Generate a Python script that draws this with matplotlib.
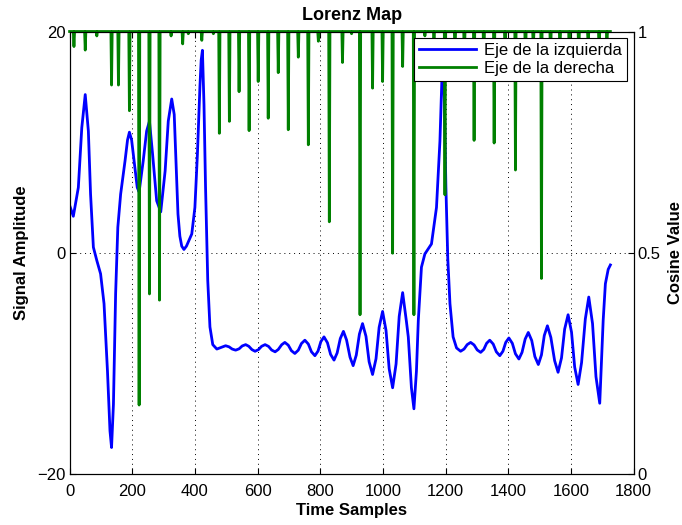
import numpy as np
import matplotlib
matplotlib.use('Agg')
import matplotlib.pyplot as plt

plt.rcParams['font.family'] = ['Liberation Sans', 'DejaVu Sans']

# Señal principal (eje izquierdo): muestras y amplitud
t_signal = [0, 12, 28, 39, 50, 60, 67, 76, 87, 99, 110, 121, 129, 134, 140, 147,
            154, 163, 177, 185, 191, 198, 206, 216, 222, 235, 246, 255, 265, 278,
            291, 305, 315, 326, 334, 340, 346, 352, 358, 365, 373, 390, 400, 408,
            416, 420, 424, 429, 434, 441, 448, 457, 470, 484, 498, 509, 519, 530,
            541, 551, 562, 572, 582, 592, 603, 613, 624, 635, 645, 656, 666, 677,
            687, 698, 708, 719, 730, 740, 751, 762, 772, 783, 793, 802, 812, 823,
            833, 844, 854, 864, 874, 884, 895, 905, 915, 925, 935, 946, 956, 967,
            978, 988, 999, 1010, 1020, 1031, 1042, 1052, 1063, 1075, 1081, 1091,
            1099, 1107, 1113, 1123, 1134, 1155, 1171, 1182, 1188, 1192, 1196, 1201,
            1207, 1214, 1224, 1235, 1248, 1259, 1269, 1280, 1291, 1301, 1312, 1322,
            1331, 1341, 1352, 1362, 1373, 1383, 1392, 1402, 1413, 1423, 1434, 1444,
            1454, 1464, 1475, 1485, 1496, 1506, 1515, 1525, 1536, 1548, 1559, 1570,
            1580, 1591, 1602, 1612, 1623, 1634, 1646, 1657, 1669, 1680, 1692, 1703,
            1710, 1719, 1726]
signal = [4.3, 3.3, 5.9, 11.3, 14.3, 11.0, 5.3, 0.5, -0.7, -1.9, -4.6, -10.7,
          -16.1, -17.6, -13.7, -3.7, 2.3, 5.3, 8.3, 10.2, 10.9, 10.2, 8.3, 5.9,
          5.5, 8.3, 11.0, 11.9, 8.9, 4.7, 3.7, 7.4, 11.9, 13.9, 12.5, 8.0, 3.5,
          1.5, 0.6, 0.3, 0.6, 1.7, 4.1, 8.9, 15.0, 17.4, 18.3, 13.4, 5.9, -2.5,
          -6.7, -8.3, -8.7, -8.55, -8.4, -8.5, -8.7, -8.8, -8.68, -8.42, -8.3,
          -8.45, -8.75, -8.9, -8.75, -8.45, -8.3, -8.46, -8.79, -8.95, -8.74,
          -8.31, -8.1, -8.35, -8.85, -9.1, -8.8, -8.2, -7.9, -8.25, -8.95, -9.3,
          -8.88, -8.03, -7.6, -8.13, -9.18, -9.7, -9.05, -7.75, -7.1, -7.88,
          -9.43, -10.2, -9.25, -7.35, -6.4, -7.55, -9.85, -11.0, -9.58, -6.73,
          -5.3, -7.03, -10.48, -12.2, -10.05, -5.75, -3.6, -6.2, -7.6, -12.2,
          -14.1, -10.7, -6.1, -1.3, -0.1, 0.8, 4.1, 10.1, 15.5, 18.0, 14.0, 6.0,
          -0.5, -4.6, -7.6, -8.6, -8.9, -8.7, -8.3, -8.1, -8.33, -8.78, -9.0,
          -8.73, -8.18, -7.9, -8.25, -8.95, -9.3, -8.9, -8.1, -7.7, -8.18, -9.13,
          -9.6, -9.0, -7.8, -7.2, -7.93, -9.38, -10.1, -9.23, -7.48, -6.6, -7.65,
          -9.75, -10.8, -9.5, -6.9, -5.6, -7.18, -10.33, -11.9, -9.93, -5.98,
          -4.0, -6.4, -11.2, -13.6, -6.1, -2.8, -1.5, -1.1]

# Coseno (eje derecho): posición y valor mínimo de cada caída
dip_t = [14, 50, 87, 134, 156, 191, 222, 255, 287, 324, 361, 379, 422, 459,
         478, 510, 541, 573, 602, 634, 666, 698, 730, 762, 794, 829, 871, 900,
         927, 967, 999, 1031, 1063, 1099, 1134, 1163, 1198, 1230, 1260, 1291,
         1322, 1355, 1390, 1423, 1455, 1480, 1506, 1535, 1565, 1595, 1625, 1655,
         1690, 1715]
dip_min = [0.966, 0.958, 0.99, 0.879, 0.879, 0.821, 0.156, 0.407, 0.393, 0.99,
           0.972, 0.995, 0.98, 0.995, 0.77, 0.797, 0.864, 0.776, 0.887, 0.804,
           0.907, 0.778, 0.942, 0.744, 0.978, 0.570, 0.930, 0.995, 0.360, 0.872,
           0.887, 0.499, 0.921, 0.360, 0.99, 0.985, 0.631, 0.95, 0.92, 0.754,
           0.90, 0.748, 0.93, 0.687, 0.90, 0.96, 0.442, 0.93, 0.96, 0.90, 0.94,
           0.97, 0.95, 0.98]

t_cos = [0]
cos_val = [1.0]
for d, m in zip(dip_t, dip_min):
    t_cos += [d - 2, d, d + 2]
    cos_val += [1.0, m, 1.0]
t_cos.append(1726)
cos_val.append(1.0)

fig = plt.figure(figsize=(6.82, 5.25), dpi=100)
ax1 = fig.add_axes([0.102, 0.097, 0.827, 0.843])
ax2 = ax1.twinx()

l1, = ax1.plot(t_signal, signal, color=(0, 0, 1), lw=2.0)
l2, = ax2.plot(t_cos, cos_val, color=(0, 0.5, 0), lw=2.0, clip_on=False)

ax1.set_xlim(0, 1800)
ax1.set_ylim(-20, 20)
ax2.set_ylim(0, 1)
ax1.set_xticks(np.arange(0, 1801, 200))
ax1.set_yticks([-20, 0, 20])
ax2.set_yticks([0, 0.5, 1])
ax2.set_yticklabels(['0', '0.5', '1'])

# rejilla punteada como en MATLAB
ax1.grid(True, color='k', linestyle=(0, (1, 4)), linewidth=0.7)
ax1.tick_params(direction='in', length=4, labelsize=12, top=True)
ax1.tick_params(axis='x', pad=7)
ax1.tick_params(axis='y', pad=3)
ax2.tick_params(direction='in', length=4, labelsize=12, pad=3)

ax1.set_xlabel('Time Samples', fontsize=12, fontweight='bold', labelpad=3)
ax1.set_ylabel('Signal Amplitude', fontsize=12, fontweight='bold', labelpad=6)
ax2.set_ylabel('Cosine Value', fontsize=12, fontweight='bold', labelpad=5)
ax1.set_title('Lorenz Map', fontsize=13, fontweight='bold', pad=8)

leg = ax2.legend([l1, l2], ['Eje de la izquierda', 'Eje de la derecha'],
                 loc='upper right', fontsize=12, fancybox=False,
                 edgecolor='k', framealpha=1, borderaxespad=0.4,
                 handlelength=3.4, borderpad=0.3, labelspacing=0.15,
                 handletextpad=0.5)
leg.get_frame().set_linewidth(0.8)

fig.savefig('out.png', dpi=100)
